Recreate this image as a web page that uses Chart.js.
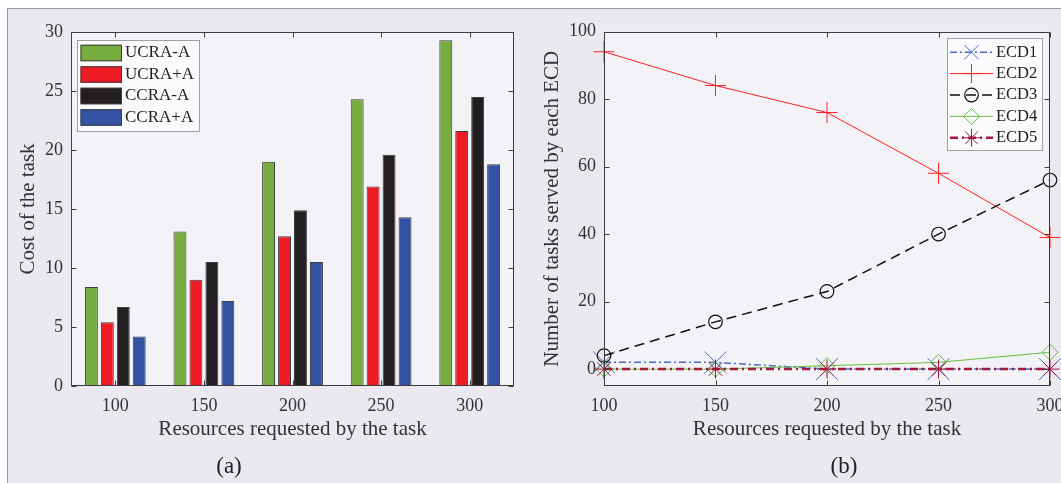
<!DOCTYPE html>
<html>
<head>
<meta charset="utf-8">
<script src="https://cdn.jsdelivr.net/npm/chart.js@4/dist/chart.umd.min.js"></script>
<style>
  html, body { margin: 0; padding: 0; background: #fff; overflow: hidden; width: 1061px; height: 483px; }
  #panel { position: absolute; left: 7px; top: 8px; width: 1100px; height: 500px; background: #ebe8ef;
           border-left: 1px solid #9a9a9a; border-top: 1px solid #9a9a9a; }
  .box { position: absolute; top: 0; height: 483px; }
  #boxA { left: 0; width: 540px; }
  #boxB { left: 530px; width: 560px; }
  .cap { position: absolute; top: 454px; line-height: 23px; font-family: 'Liberation Serif', serif;
         font-size: 23px; color: #222; transform: translateX(-50%); }
</style>
</head>
<body>
<div id="panel"></div>
<div class="box" id="boxA"><canvas id="costChart"></canvas></div>
<div class="box" id="boxB"><canvas id="ecdChart"></canvas></div>
<div class="cap" style="left:229px">(a)</div>
<div class="cap" style="left:844px">(b)</div>
<script>
// (a) cost of the task
const categories = ['100', '150', '200', '250', '300'];
const ucraMinus = [8.4, 13.1, 19.0, 24.3, 29.3];
const ucraPlus = [5.4, 9.0, 12.7, 16.9, 21.6];
const ccraMinus = [6.7, 10.5, 14.9, 19.6, 24.5];
const ccraPlus = [4.2, 7.2, 10.5, 14.3, 18.8];
const costTicks = [0, 5, 10, 15, 20, 25, 30];

// (b) tasks served by each ECD
const resources = [100, 150, 200, 250, 300];
const ecd1 = [2, 2, 0, 0, 0];
const ecd2 = [94, 84, 76, 58, 39];
const ecd3 = [4, 14, 23, 40, 56];
const ecd4 = [0, 0, 1, 2, 5];
const ecd5 = [0, 0, 0, 0, 0];
const resourceTicks = [100, 150, 200, 250, 300];
const taskTicks = [0, 20, 40, 60, 80, 100];

const SERIF = "'Liberation Serif', 'Times New Roman', serif";
const TEXT = '#333';
const tickFont = { family: SERIF, size: 18 };
const titleFont = { family: SERIF, size: 21 };

// plot background, box frame and inward ticks (matlab style)
const framePlugin = {
  id: 'frame',
  beforeDraw(chart) {
    const { ctx, chartArea: a } = chart;
    ctx.save();
    ctx.fillStyle = '#f3f2f7';
    ctx.fillRect(a.left, a.top, a.right - a.left, a.bottom - a.top);
    ctx.restore();
  },
  afterDatasetsDraw(chart) {
    const { ctx, chartArea: a, scales } = chart;
    const L = Math.round(a.left) + 0.5, R = Math.round(a.right) - 0.5;
    const T = Math.round(a.top) + 0.5, B = Math.round(a.bottom) - 0.5;
    const len = 5;
    ctx.save();
    ctx.strokeStyle = '#3c3c3c';
    ctx.lineWidth = 1;
    ctx.beginPath();
    scales.x.ticks.forEach((t, i) => {
      const px = Math.round(scales.x.getPixelForTick(i)) + 0.5;
      ctx.moveTo(px, T); ctx.lineTo(px, T + len);
      ctx.moveTo(px, B); ctx.lineTo(px, B - len);
    });
    scales.y.ticks.forEach((t, i) => {
      const py = Math.round(scales.y.getPixelForTick(i)) + 0.5;
      ctx.moveTo(L, py); ctx.lineTo(L + len, py);
      ctx.moveTo(R, py); ctx.lineTo(R - len, py);
    });
    ctx.stroke();
    ctx.strokeRect(L, T, R - L, B - T);
    ctx.restore();
  }
};

// legend box inside the plot area
const boxLegend = {
  id: 'boxLegend',
  afterDraw(chart, args, o) {
    const { ctx, chartArea: a } = chart;
    const sets = chart.data.datasets;
    ctx.save();
    ctx.font = o.fontSize + 'px ' + SERIF;
    const textW = Math.max(...sets.map(d => ctx.measureText(d.label).width));
    const w = Math.round(o.textX + textW + o.padRight);
    const h = Math.round(o.firstRow + (sets.length - 1) * o.rowH + o.padBottom);
    const x0 = Math.round(o.align === 'left' ? a.left + o.inset[0] : a.right - o.inset[0] - w);
    const y0 = Math.round(a.top + o.inset[1]);
    ctx.fillStyle = '#fafafc';
    ctx.fillRect(x0, y0, w, h);
    ctx.strokeStyle = '#a0a0a0';
    ctx.lineWidth = 1;
    ctx.strokeRect(x0 + 0.5, y0 + 0.5, w, h);
    sets.forEach((d, i) => {
      const cy = y0 + o.firstRow + i * o.rowH;
      if (o.kind === 'swatch') {
        ctx.fillStyle = d.backgroundColor;
        ctx.fillRect(x0 + o.sample[0], cy - o.swatchH / 2, o.sample[1] - o.sample[0], o.swatchH);
        ctx.strokeStyle = '#3d3d3d';
        ctx.strokeRect(x0 + o.sample[0] + 0.5, cy - o.swatchH / 2 + 0.5, o.sample[1] - o.sample[0] - 1, o.swatchH - 1);
      } else {
        ctx.save();
        ctx.strokeStyle = d.borderColor;
        ctx.lineWidth = d.borderWidth;
        ctx.setLineDash(d.borderDash || []);
        ctx.beginPath();
        ctx.moveTo(x0 + o.sample[0], cy);
        ctx.lineTo(x0 + o.sample[1], cy);
        ctx.stroke();
        ctx.restore();
        ctx.save();
        ctx.strokeStyle = d.pointBorderColor;
        ctx.fillStyle = 'rgba(0,0,0,0)';
        ctx.lineWidth = d.pointBorderWidth;
        Chart.helpers.drawPoint(ctx, {
          pointStyle: d.pointStyle, radius: d.legendRadius, borderWidth: d.pointBorderWidth, rotation: 0
        }, x0 + (o.sample[0] + o.sample[1]) / 2, cy);
        ctx.restore();
      }
      ctx.fillStyle = '#222';
      ctx.textAlign = 'left';
      ctx.textBaseline = 'middle';
      ctx.fillText(d.label, x0 + o.textX, cy);
    });
    ctx.restore();
  }
};

new Chart(document.getElementById('costChart'), {
  type: 'bar',
  data: {
    labels: categories,
    datasets: [
      { label: 'UCRA-A', data: ucraMinus, backgroundColor: '#77ac41' },
      { label: 'UCRA+A', data: ucraPlus, backgroundColor: '#ed1c24' },
      { label: 'CCRA-A', data: ccraMinus, backgroundColor: '#231f20' },
      { label: 'CCRA+A', data: ccraPlus, backgroundColor: '#3352a3' }
    ]
  },
  options: {
    responsive: true,
    maintainAspectRatio: false,
    animation: false,
    events: [],
    datasets: {
      bar: { categoryPercentage: 0.72, barPercentage: 0.81, borderWidth: 1, borderColor: '#3d3d3d' }
    },
    layout: { padding: { left: 0, top: 32, right: 26, bottom: 0 } },
    plugins: {
      legend: { display: false },
      tooltip: { enabled: false },
      boxLegend: {
        kind: 'swatch', align: 'left', inset: [6, 8], fontSize: 17,
        firstRow: 13, rowH: 21.5, padBottom: 13, textX: 48, padRight: 5,
        sample: [3.5, 45], swatchH: 16.5
      }
    },
    scales: {
      x: {
        grid: { display: false, drawTicks: false },
        border: { display: false },
        ticks: { padding: 9.4, color: TEXT, font: tickFont, autoSkip: false, maxRotation: 0 },
        title: { display: true, text: 'Resources requested by the task', color: TEXT, font: titleFont,
                 padding: { top: 0, bottom: 40.5 } },
        afterFit(s) { s.height = 97; }
      },
      y: {
        min: 0,
        max: 30,
        afterBuildTicks(s) { s.ticks = costTicks.map(v => ({ value: v })); },
        grid: { display: false, drawTicks: false },
        border: { display: false },
        ticks: { padding: 8, color: TEXT, font: tickFont },
        title: { display: true, text: 'Cost of the task', color: TEXT, font: titleFont,
                 padding: { top: 15.8, bottom: 0 } },
        afterFit(s) { s.width = 71; }
      }
    }
  },
  plugins: [framePlugin, boxLegend]
});

const toPoints = ys => resources.map((x, i) => ({ x: x, y: ys[i] }));
const none = 'rgba(0,0,0,0)';

new Chart(document.getElementById('ecdChart'), {
  type: 'line',
  data: {
    datasets: [
      { label: 'ECD1', data: toPoints(ecd1), borderColor: '#4a6cc8', borderWidth: 1.5, borderDash: [7, 3, 2, 3],
        pointStyle: 'crossRot', pointRadius: 15.5, legendRadius: 10, pointBorderColor: '#4a6cc8',
        pointBackgroundColor: none, pointBorderWidth: 1, order: 4 },
      { label: 'ECD2', data: toPoints(ecd2), borderColor: '#ff2020', borderWidth: 1,
        pointStyle: 'cross', pointRadius: 10.5, legendRadius: 9.5, pointBorderColor: '#ff2020',
        pointBackgroundColor: none, pointBorderWidth: 1, order: 3 },
      { label: 'ECD3', data: toPoints(ecd3), borderColor: '#111111', borderWidth: 1.5, borderDash: [10, 6],
        pointStyle: 'circle', pointRadius: 6.8, legendRadius: 6.8, pointBorderColor: '#111111',
        pointBackgroundColor: none, pointBorderWidth: 1.2, order: 2 },
      { label: 'ECD4', data: toPoints(ecd4), borderColor: '#66bf44', borderWidth: 1,
        pointStyle: 'rectRot', pointRadius: 8, legendRadius: 8, pointBorderColor: '#66bf44',
        pointBackgroundColor: none, pointBorderWidth: 1, order: 1 },
      { label: 'ECD5', data: toPoints(ecd5), borderColor: '#a2193d', borderWidth: 2.5, borderDash: [8, 4, 2, 4],
        pointStyle: 'star', pointRadius: 9.5, legendRadius: 9, pointBorderColor: '#a2193d',
        pointBackgroundColor: none, pointBorderWidth: 1, order: 0 }
    ]
  },
  options: {
    responsive: true,
    maintainAspectRatio: false,
    animation: false,
    events: [],
    elements: { line: { tension: 0, fill: false } },
    datasets: { line: { clip: false } },
    layout: { padding: { left: 0, top: 31.5, right: 40, bottom: 0 } },
    plugins: {
      legend: { display: false },
      tooltip: { enabled: false },
      boxLegend: {
        kind: 'line', align: 'right', inset: [8, 6], fontSize: 16.5,
        firstRow: 14.2, rowH: 21.4, padBottom: 12, textX: 49, padRight: 5,
        sample: [3, 46]
      }
    },
    scales: {
      x: {
        type: 'linear',
        min: 100,
        max: 300,
        afterBuildTicks(s) { s.ticks = resourceTicks.map(v => ({ value: v })); },
        grid: { display: false, drawTicks: false },
        border: { display: false },
        ticks: { padding: 9.4, color: TEXT, font: tickFont, autoSkip: false, maxRotation: 0 },
        title: { display: true, text: 'Resources requested by the task', color: TEXT, font: titleFont,
                 padding: { top: 0, bottom: 40.5 } },
        afterFit(s) { s.height = 97; }
      },
      y: {
        min: -5,
        max: 100,
        afterBuildTicks(s) { s.ticks = taskTicks.map(v => ({ value: v })); },
        grid: { display: false, drawTicks: false },
        border: { display: false },
        ticks: { padding: 8, color: TEXT, font: tickFont },
        title: { display: true, text: 'Number of tasks served by each ECD', color: TEXT, font: titleFont,
                 padding: { top: 10.1, bottom: 0 } },
        afterFit(s) { s.width = 74; }
      }
    }
  },
  plugins: [framePlugin, boxLegend]
});
</script>
</body>
</html>
